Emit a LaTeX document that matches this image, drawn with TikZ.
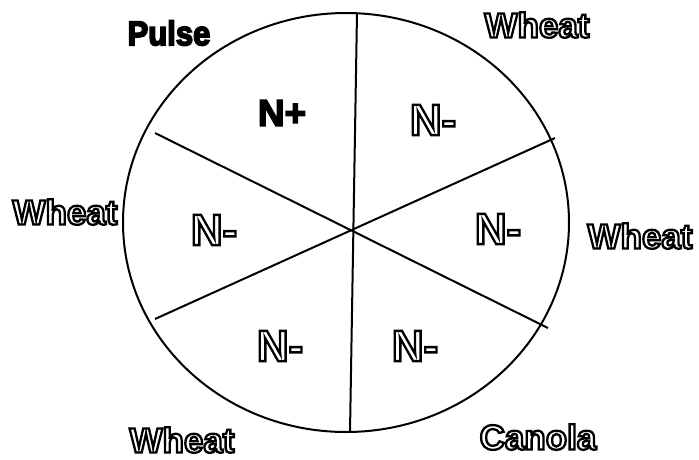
\documentclass[tikz,border=0pt]{standalone}
\usepackage{fontspec}
\setmainfont{Liberation Sans}
\newcommand\outl[1]{\special{pdf:code 0 G 1 Tr 2.3 w}#1\special{pdf:code 0 Tr}}
\newcommand\heavy[1]{\special{pdf:code 0 G 0 g 2 Tr 1.6 w}#1\special{pdf:code 0 Tr}}
\tikzset{
  rim/.style={line width=2pt},
  spoke/.style={line width=2pt},
  solidlbl/.style={inner sep=0pt, font=\bfseries\fontsize{31}{31}\selectfont},
  outlbl/.style={inner sep=0pt, font=\bfseries\fontsize{35}{35}\selectfont},
  nlbl/.style={inner sep=0pt, font=\bfseries\fontsize{44}{44}\selectfont},
}
\begin{document}
\begin{tikzpicture}[x=1pt,y=-1pt]
\useasboundingbox (0,0) rectangle (699,459);
\fill[white] (0,0) rectangle (699,459);
\coordinate (ctr) at (346,222.5);
\draw[rim] (ctr) ellipse [x radius=223, y radius=209.5];
\coordinate (top) at (357,13);
\coordinate (bot) at (350,432);
\coordinate (ul) at (155,133);
\coordinate (lr) at (548,328);
\coordinate (ll) at (155,319);
\coordinate (ur) at (555,138);
\draw[spoke] (top) -- (bot);
\draw[spoke] (ul) -- (lr);
\draw[spoke] (ll) -- (ur);
\node[solidlbl, yscale=1.1] (pulse) at (169,33) {\heavy{Pulse}};
\node[solidlbl, font=\bfseries\fontsize{37}{37}\selectfont] (nplus) at (282,113) {\heavy{N+}};
\node[outlbl] (w1) at (537,25) {\outl{Wheat}};
\node[outlbl] (w2) at (65,212) {\outl{Wheat}};
\node[outlbl] (w3) at (640,236) {\outl{Wheat}};
\node[outlbl] (w4) at (182,440) {\outl{Wheat}};
\node[outlbl] (canola) at (538,437) {\outl{Canola}};
\node[nlbl] (n1) at (433,120) {\outl{N-}};
\node[nlbl] (n2) at (214,230) {\outl{N-}};
\node[nlbl] (n3) at (498,229) {\outl{N-}};
\node[nlbl] (n4) at (280,346) {\outl{N-}};
\node[nlbl] (n5) at (415,346) {\outl{N-}};
\end{tikzpicture}
\end{document}
